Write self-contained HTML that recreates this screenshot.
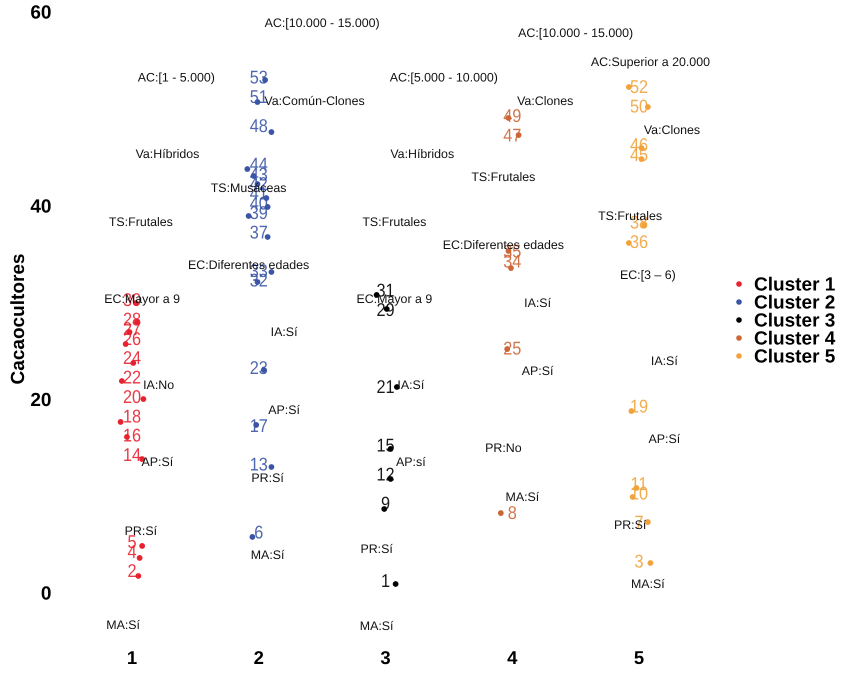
<!DOCTYPE html>
<html lang="es">
<head>
<meta charset="utf-8">
<title>Cacaocultores por cluster</title>
<style>
html,body{margin:0;padding:0;background:#fff;width:849px;height:677px;overflow:hidden}
svg{display:block;font-family:"Liberation Sans",sans-serif;text-rendering:geometricPrecision}
.tick,.legend-text,.ytitle{font-weight:bold;fill:#000}
</style>
</head>
<body>
<svg id="chart" width="849" height="677" viewBox="0 0 849 677" xmlns="http://www.w3.org/2000/svg">
<rect width="849" height="677" fill="#fff"/>
<text class="ytitle" transform="translate(24,319) rotate(-90)" text-anchor="middle" font-size="19">Cacaocultores</text>
</svg>
<script>
const xCategories = [1, 2, 3, 4, 5];
const yTicks = [0, 20, 40, 60];
const clusterNames = ["Cluster 1", "Cluster 2", "Cluster 3", "Cluster 4", "Cluster 5"];
const clusterColors = ["#E8212F", "#3A55A5", "#000000", "#CC6636", "#F2A23A"];

const ids1 = [30, 28, 27, 26, 24, 22, 20, 18, 16, 14, 5, 4, 2];
const xs1 = [1.03, 1.04, 0.98, 0.95, 1.01, 0.92, 1.09, 0.91, 0.96, 1.08, 1.08, 1.06, 1.05];
const ys1 = [29.96, 28.0, 26.96, 25.72, 23.76, 21.9, 20.04, 17.67, 16.12, 13.84, 4.86, 3.62, 1.76];

const ids2 = [53, 51, 48, 44, 43, 42, 41, 40, 39, 37, 33, 32, 23, 17, 13, 6];
const xs2 = [2.05, 1.99, 2.10, 1.91, 1.96, 1.99, 2.06, 2.07, 1.92, 2.07, 2.10, 1.99, 2.04, 1.98, 2.10, 1.95];
const ys2 = [53.0, 50.72, 47.62, 43.8, 43.08, 42.25, 40.8, 39.88, 38.95, 36.78, 33.16, 32.13, 23.04, 17.36, 13.02, 5.79];

const ids3 = [31, 29, 21, 15, 12, 9, 1];
const xs3 = [2.93, 3.01, 3.09, 3.04, 3.04, 2.99, 3.08];
const ys3 = [30.79, 29.34, 21.28, 14.88, 11.78, 8.68, 0.93];

const ids4 = [49, 47, 35, 34, 25, 8];
const xs4 = [3.97, 4.05, 3.97, 3.99, 3.96, 3.91];
const ys4 = [49.07, 47.31, 35.33, 33.57, 25.2, 8.26];

const ids5 = [52, 50, 46, 45, 38, 36, 19, 11, 10, 7, 3];
const xs5 = [4.92, 5.07, 5.02, 5.02, 5.04, 4.92, 4.94, 4.98, 4.95, 5.07, 5.09];
const ys5 = [52.27, 50.21, 45.97, 44.83, 38.02, 36.16, 18.8, 10.85, 9.92, 7.33, 3.1];

const noteTexts = [
"AC:[1 - 5.000)","Va:Híbridos","TS:Frutales","EC:Mayor a 9","IA:No","AP:Sí","PR:Sí","MA:Sí",
"AC:[10.000 - 15.000)","Va:Común-Clones","TS:Musáceas","EC:Diferentes edades","IA:Sí","AP:Sí","PR:Sí","MA:Sí",
"AC:[5.000 - 10.000)","Va:Híbridos","TS:Frutales","EC:Mayor a 9","IA:Sí","AP:sí","PR:Sí","MA:Sí",
"AC:[10.000 - 15.000)","Va:Clones","TS:Frutales","EC:Diferentes edades","IA:Sí","AP:Sí","PR:No","MA:Sí",
"AC:Superior a 20.000","Va:Clones","TS:Frutales","EC:[3 – 6)","IA:Sí","AP:Sí","PR:Sí","MA:Sí"
];
const noteXs = [
1.35,1.28,1.07,1.08,1.21,1.20,1.07,0.93,
2.50,2.44,1.92,1.92,2.20,2.20,2.07,2.07,
3.46,3.29,3.07,3.07,3.20,3.20,2.93,2.93,
4.50,4.26,3.93,3.93,4.20,4.20,3.93,4.08,
5.09,5.26,4.93,5.07,5.20,5.20,4.93,5.07
];
const noteYs = [
53.3,45.35,38.33,30.37,21.49,13.53,6.40,-3.31,
58.88,50.83,41.84,33.88,26.96,18.90,11.88,3.93,
53.3,45.35,38.33,30.37,21.49,13.53,4.55,-3.41,
57.85,50.83,42.98,35.95,29.96,22.93,14.98,9.92,
54.86,47.83,38.95,32.85,23.97,15.91,7.02,0.93
];

const clusterIds = [ids1, ids2, ids3, ids4, ids5];
const clusterXs = [xs1, xs2, xs3, xs4, xs5];
const clusterYs = [ys1, ys2, ys3, ys4, ys5];

function xScale(v) { return 132 + (v - 1) * 126.75; }
function yScale(v) { return 593 - v * 9.68; }

const svg = document.getElementById('chart');
const NS = 'http://www.w3.org/2000/svg';
function make(tag, attrs, txt) {
  const el = document.createElementNS(NS, tag);
  for (const k in attrs) el.setAttribute(k, attrs[k]);
  if (txt !== undefined) el.textContent = txt;
  svg.appendChild(el);
  return el;
}

yTicks.forEach(function (t) {
  const el = make('text', {x: 51.5, y: yScale(t) + 6.5, 'text-anchor': 'end', 'font-size': 19, class: 'tick'}, String(t));
  
  
});
xCategories.forEach(function (c) {
  const el = make('text', {x: xScale(c), y: 664, 'text-anchor': 'middle', 'font-size': 18.5, class: 'tick'}, String(c));
  
  
});

clusterIds.forEach(function (ids, c) {
  ids.forEach(function (id, i) {
    const label = make('text', {transform: 'translate(' + xScale(c + 1) + ',' + (yScale(id) + 3.5) + ') scale(0.88,1)', 'text-anchor': 'middle', 'font-size': 18.5, fill: clusterColors[c], 'fill-opacity': 0.9}, String(id));
    
    
    const dot = make('circle', {cx: xScale(clusterXs[c][i]), cy: yScale(clusterYs[c][i]), r: 2.9, fill: clusterColors[c]});
    
    
  });
});

noteTexts.forEach(function (t, i) {
  const note = make('text', {x: xScale(noteXs[i]), y: yScale(noteYs[i]) + 4.2, 'text-anchor': 'middle', 'font-size': 12.4, fill: '#111'}, t);
  
  
});

clusterNames.forEach(function (name, i) {
  const ly = 284 + i * 18;
  const key = make('circle', {cx: 739, cy: ly, r: 2.8, fill: clusterColors[i]});
  
  
  const lab = make('text', {x: 754, y: ly + 6.5, 'font-size': 19, class: 'legend-text'}, name);
  
  
});
</script>
</body>
</html>
